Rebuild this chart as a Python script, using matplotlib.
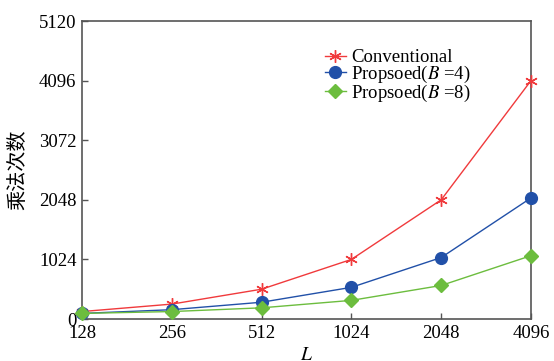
import matplotlib
matplotlib.use("Agg")
from matplotlib import pyplot as plt

# data
L_labels = ["128", "256", "512", "1024", "2048", "4096"]
conventional = [128, 256, 512, 1024, 2048, 4096]
proposed_b4 = [96, 160, 288, 544, 1056, 2080]
proposed_b8 = [96, 128, 192, 320, 576, 1088]
y_ticks = [0, 1024, 2048, 3072, 4096, 5120]

plt.rcParams['font.family'] = ['Liberation Serif', 'Noto Sans CJK SC']
plt.rcParams['mathtext.fontset'] = 'stix'

fig = plt.figure(figsize=(5.54, 3.61), dpi=100)
ax = fig.add_axes([82/554, 1-319/361, (531-82)/554, (319-21)/361])

x = list(range(len(L_labels)))
ax.plot(x, conventional, color="#f03a3c", lw=1.0, marker=(6, 2, 0), ms=9, mew=1.0,
        label="Conventional", clip_on=False, zorder=3)
ax.plot(x, proposed_b4, color="#2150a8", lw=1.0, marker="o", ms=8.5,
        label="Propsoed($\\mathit{B}$ =4)", clip_on=False, zorder=4)
ax.plot(x, proposed_b8, color="#6cbd3e", lw=1.0, marker="D", ms=7.5,
        label="Propsoed($\\mathit{B}$ =8)", clip_on=False, zorder=5)

ax.set_xlim(0, 5)
ax.set_ylim(0, 5120)
ax.set_xticks(x)
ax.set_xticklabels(L_labels)
ax.set_yticks(y_ticks)
ax.tick_params(direction="in", length=4, width=1, color="#555555",
               labelsize=13.5, pad=4)
for s in ax.spines.values():
    s.set_color("#555555")
    s.set_linewidth(1.2)

ax.set_xlabel("$\\mathit{L}$", fontsize=14, labelpad=4)
ax.set_ylabel("乘法次数", fontsize=14.5, labelpad=8,
              family=['Noto Sans CJK SC', 'DejaVu Sans'])

leg = ax.legend(loc="upper left", bbox_to_anchor=(325/554, 1-49/361),
                bbox_transform=fig.transFigure, frameon=False, fontsize=13.5,
                handlelength=1.1, handletextpad=0.3, labelspacing=-0.12,
                borderpad=0, borderaxespad=0, markerscale=1.0)

fig.savefig("out.png", dpi=100)
